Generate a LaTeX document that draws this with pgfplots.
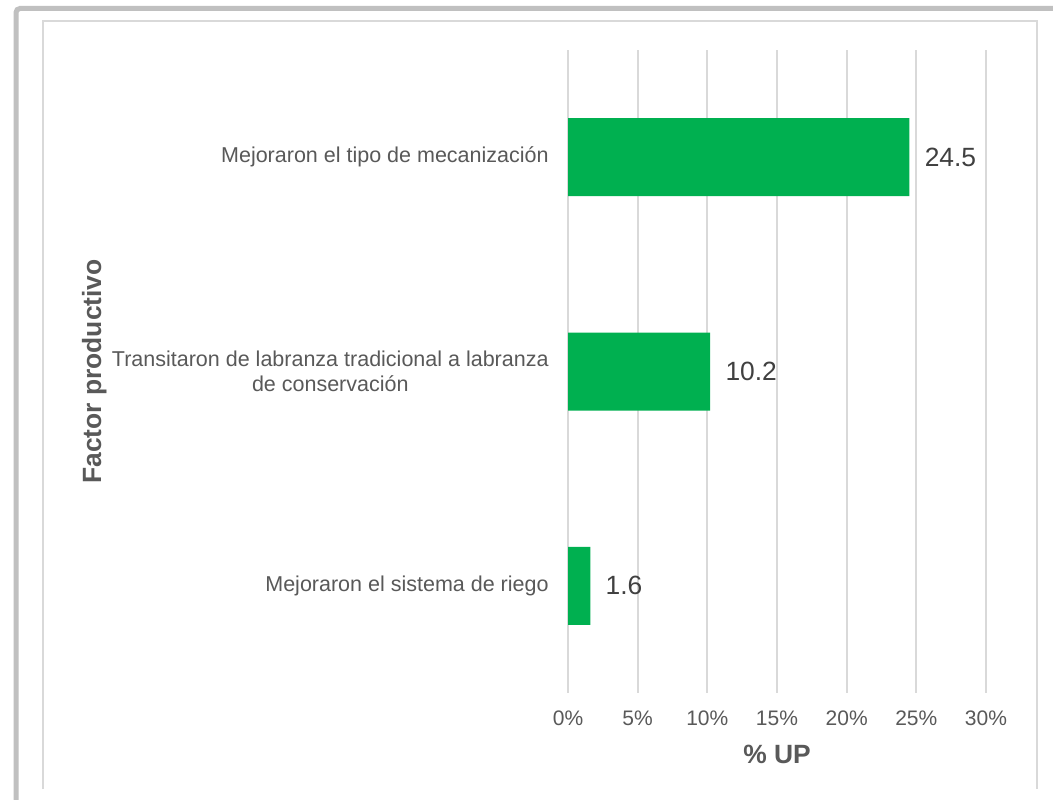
\documentclass[border=0pt]{standalone}
\usepackage{pgfplots}
\pgfplotsset{compat=1.18}
\usepackage{fontspec}
\setmainfont{Liberation Sans}

\definecolor{barGreen}{HTML}{00B050}
\definecolor{gridGray}{HTML}{D9D9D9}
\definecolor{frameGray}{HTML}{C0C0C0}
\definecolor{textGray}{HTML}{595959}
\definecolor{labelGray}{HTML}{404040}

\begin{document}
\begin{tikzpicture}[x=0.5pt, y=0.5pt]
    % page = 1053 x 799 px, 1px = 0.5pt
    \path[use as bounding box, fill=white] (0,0) rectangle (1053,799);
    % outer frame and chart border
    \draw[frameGray, line width=2.5pt, rounded corners=2pt] (16,-10) -- (16,790.5) -- (1065,790.5);
    \draw[gridGray, line width=1pt] (43,10) -- (43,777.5) -- (1037,777.5) -- (1037,10);

    \begin{axis}[
        at={(284pt,53pt)}, anchor=south west,
        scale only axis,
        width=209pt, height=321.5pt,
        xbar, bar width=0.364,
        xmin=0, xmax=30,
        ymin=-0.5, ymax=2.5,
        y dir=reverse,
        enlargelimits=false,
        clip=false,
        axis line style={draw=none},
        major tick length=0pt,
        xtick={0,5,...,30},
        xticklabel={\pgfmathprintnumber{\tick}\%},
        ytick={0,1,2},
        yticklabels={
            Mejoraron el tipo de mecanización,
            {Transitaron de labranza tradicional a labranza\\de conservación},
            Mejoraron el sistema de riego},
        xmajorgrids,
        grid style={gridGray, line width=1pt},
        /pgf/number format/assume math mode=true,
        x tick label style={font=\fontsize{10.5}{12.5}\selectfont, text=textGray,
            anchor=base, inner sep=0pt, yshift=-16.4pt},
        y tick label style={font=\fontsize{10.75}{12.5}\selectfont, text=textGray,
            anchor=east, align=center, inner sep=0pt, xshift=-9.5pt},
        xlabel={\% UP},
        ylabel={Factor productivo},
        xlabel style={at={(axis description cs:0.5,-0.1089)}, anchor=base,
            font=\fontsize{13.2}{15}\selectfont\bfseries, text=textGray, inner sep=0pt},
        ylabel style={at={(axis description cs:-1.1172,0.5)}, anchor=base, rotate=0,
            font=\fontsize{13.2}{15}\selectfont\bfseries, text=textGray, inner sep=0pt},
        nodes near coords,
        nodes near coords style={anchor=west, inner sep=0pt, xshift=7.5pt,
            font=\fontsize{13.2}{15}\selectfont, text=labelGray,
            /pgf/number format/.cd, fixed, fixed zerofill, precision=1},
    ]
    \addplot[fill=barGreen, draw=none] coordinates {
        (24.5,0) (10.2,1) (1.6,2)
    };
    \end{axis}
\end{tikzpicture}
\end{document}
